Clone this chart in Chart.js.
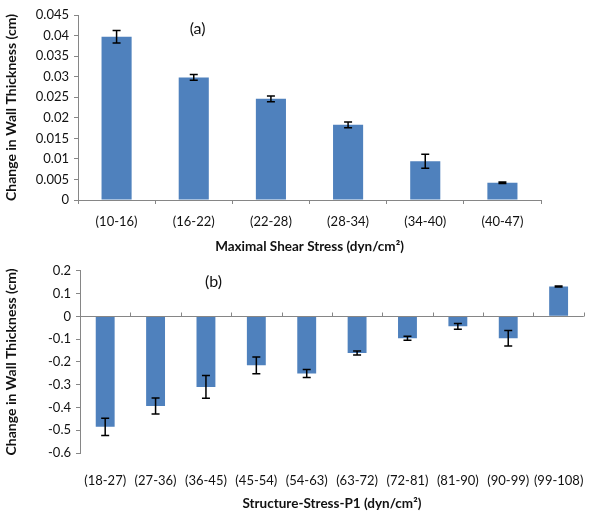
<!DOCTYPE html>
<html>
<head>
<meta charset="utf-8">
<script src="https://cdn.jsdelivr.net/npm/chart.js@4/dist/chart.umd.min.js"></script>
<style>
  body { margin: 0; background: #fff; }
  #wrapA { position: absolute; left: 0; top: 0; width: 600px; height: 258px; }
  #wrapB { position: absolute; left: 0; top: 258px; width: 600px; height: 260px; }
</style>
</head>
<body>
<div id="wrapA"><canvas id="chartA"></canvas></div>
<div id="wrapB"><canvas id="chartB"></canvas></div>
<script>
// panel (a)
const shearLabels = ['(10-16)', '(16-22)', '(22-28)', '(28-34)', '(34-40)', '(40-47)'];
const shearValues = [0.0397, 0.0298, 0.0246, 0.0183, 0.0094, 0.0042];
const shearErrors = [0.0015, 0.0007, 0.0007, 0.0007, 0.0017, 0.0002];

// panel (b)
const p1Labels = ['(18-27)', '(27-36)', '(36-45)', '(45-54)', '(54-63)', '(63-72)', '(72-81)', '(81-90)', '(90-99)', '(99-108)'];
const p1Values = [-0.485, -0.394, -0.31, -0.215, -0.251, -0.161, -0.096, -0.044, -0.096, 0.131];
const p1Errors = [0.038, 0.035, 0.05, 0.037, 0.018, 0.009, 0.009, 0.013, 0.034, 0.002];

const BAR = '#4F81BD';
const AXIS = '#868686';
const FONT = 'Lato, "Open Sans", sans-serif';

// draws error bars, the panel tag and (optionally) the zero line with its ticks
const extrasPlugin = {
    id: 'extras',
    afterDatasetsDraw(chart, args, opts) {
        const ctx = chart.ctx;
        const ys = chart.scales.y;
        const xs = chart.scales.x;
        const meta = chart.getDatasetMeta(0);
        const vals = chart.data.datasets[0].data;

        if (opts.zeroTicks) {
            const y0 = Math.round(ys.getPixelForValue(0)) + 0.5;
            ctx.save();
            ctx.strokeStyle = AXIS;
            ctx.lineWidth = 1;
            ctx.beginPath();
            ctx.moveTo(chart.chartArea.left, y0);
            ctx.lineTo(chart.chartArea.right, y0);
            for (let i = 0; i <= vals.length; i++) {
                const x = Math.round(xs.getPixelForValue(i - 0.5)) + 0.5;
                ctx.moveTo(x, y0 - 4);
                ctx.lineTo(x, y0);
            }
            ctx.stroke();
            ctx.restore();
        }

        ctx.save();
        ctx.strokeStyle = '#000';
        ctx.lineWidth = 1.5;
        meta.data.forEach((el, i) => {
            const e = opts.errors[i];
            const x = el.x;
            const yTop = ys.getPixelForValue(vals[i] + e);
            const yBot = ys.getPixelForValue(vals[i] - e);
            ctx.beginPath();
            ctx.moveTo(x, yTop); ctx.lineTo(x, yBot);
            ctx.moveTo(x - 4, yTop); ctx.lineTo(x + 4, yTop);
            ctx.moveTo(x - 4, yBot); ctx.lineTo(x + 4, yBot);
            ctx.stroke();
        });
        ctx.restore();

        ctx.save();
        ctx.fillStyle = '#111';
        ctx.font = '16px ' + FONT;
        ctx.textAlign = 'center';
        ctx.textBaseline = 'middle';
        ctx.fillText(opts.tag, xs.getPixelForValue(opts.tagAt[0]), ys.getPixelForValue(opts.tagAt[1]));
        ctx.restore();
    }
};

function makeChart(id, cfg) {
    return new Chart(document.getElementById(id), {
        type: 'bar',
        data: {
            labels: cfg.labels,
            datasets: [{
                data: cfg.values,
                backgroundColor: BAR,
                borderWidth: 0,
                barPercentage: cfg.barPct,
                categoryPercentage: 1
            }]
        },
        options: {
            responsive: true,
            maintainAspectRatio: false,
            animation: false,
            layout: { padding: cfg.padding },
            plugins: {
                legend: { display: false },
                tooltip: { enabled: false },
                extras: { errors: cfg.errors, tag: cfg.tag, tagAt: cfg.tagAt, zeroTicks: cfg.zeroTicks }
            },
            scales: {
                x: {
                    afterFit: s => { s.height = cfg.xHeight; },
                    grid: {
                        display: !cfg.zeroTicks,
                        drawOnChartArea: false,
                        tickLength: 4,
                        color: AXIS
                    },
                    border: { display: !cfg.zeroTicks, color: AXIS },
                    ticks: {
                        color: '#111',
                        padding: cfg.xTickPad,
                        maxRotation: 0,
                        autoSkip: false,
                        font: { family: FONT, size: 13 }
                    },
                    title: {
                        display: true,
                        text: cfg.xTitle,
                        color: '#111',
                        padding: { top: 0, bottom: cfg.xTitlePad },
                        font: { family: FONT, size: 13.5, weight: 'bold' }
                    }
                },
                y: {
                    min: cfg.min,
                    max: cfg.max,
                    afterFit: s => { s.width = cfg.yWidth; },
                    grid: {
                        drawOnChartArea: false,
                        tickLength: 4,
                        color: AXIS
                    },
                    border: { color: AXIS },
                    ticks: {
                        stepSize: cfg.step,
                        color: '#111',
                        padding: 5,
                        font: { family: FONT, size: 13 },
                        callback: v => String(parseFloat(v.toFixed(4)))
                    },
                    title: {
                        display: true,
                        text: 'Change in Wall Thickness (cm)',
                        color: '#111',
                        padding: { top: 3, bottom: 0 },
                        font: { family: FONT, size: 14, weight: 'bold' }
                    }
                }
            }
        },
        plugins: [extrasPlugin]
    });
}

makeChart('chartA', {
    labels: shearLabels, values: shearValues, errors: shearErrors,
    min: 0, max: 0.045, step: 0.005, barPct: 0.39,
    padding: { top: 15, right: 59, left: 0, bottom: 0 },
    yWidth: 78, xHeight: 58, xTickPad: 10, xTitlePad: 3,
    xTitle: 'Maximal Shear Stress (dyn/cm²)',
    tag: '(a)', tagAt: [1.05, 0.0417], zeroTicks: false
});

makeChart('chartB', {
    labels: p1Labels, values: p1Values, errors: p1Errors,
    min: -0.6, max: 0.2, step: 0.1, barPct: 0.375,
    padding: { top: 12, right: 13, left: 0, bottom: 0 },
    yWidth: 80, xHeight: 65, xTickPad: 16, xTitlePad: 6,
    xTitle: 'Structure-Stress-P1 (dyn/cm²)',
    tag: '(b)', tagAt: [2.15, 0.153], zeroTicks: true
});
</script>
</body>
</html>
